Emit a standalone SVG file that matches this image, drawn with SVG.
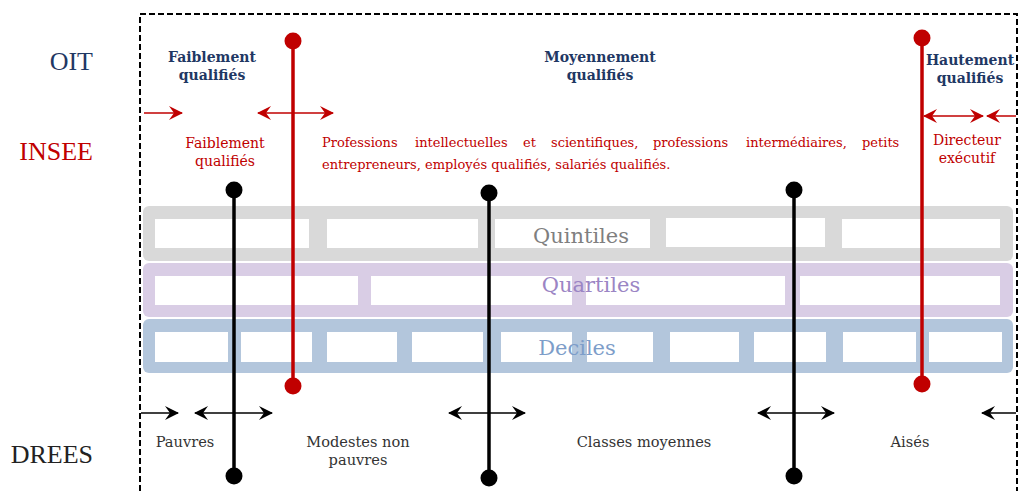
<svg xmlns="http://www.w3.org/2000/svg" width="1019" height="491" viewBox="0 0 1019 491">
<style>
.lbl{font-family:"Liberation Serif",serif;font-size:26px}
.oit{font-family:"DejaVu Serif",serif;font-size:14px;font-weight:bold;fill:#1f3864;text-anchor:middle}
.ins{font-family:"DejaVu Serif",serif;font-size:13px;fill:#c00000}
.ins2{font-family:"DejaVu Serif",serif;font-size:14px;fill:#c00000;text-anchor:middle}
.dr{font-family:"DejaVu Serif",serif;font-size:14.6px;fill:#333;text-anchor:middle}
.band{font-family:"DejaVu Serif",serif;font-size:21px;text-anchor:middle}
.w{fill:#fff}
.red{stroke:#c00000;stroke-width:3.5;fill:none}
.blk{stroke:#000;stroke-width:3.5;fill:none}
.ra{stroke:#c00000;stroke-width:1.5;fill:none}
.ba{stroke:#000;stroke-width:1.5;fill:none}
</style>
<defs>
<marker id="mr" viewBox="0 0 14 14" refX="13" refY="7" markerWidth="14" markerHeight="14" markerUnits="userSpaceOnUse" orient="auto-start-reverse"><path d="M0,0 L14,7 L0,14 L5,7 z" fill="#c00000"/></marker>
<marker id="mb" viewBox="0 0 14 14" refX="13" refY="7" markerWidth="14" markerHeight="14" markerUnits="userSpaceOnUse" orient="auto-start-reverse"><path d="M0,0 L14,7 L0,14 L5,7 z" fill="#000"/></marker>
</defs>
<rect width="1019" height="491" fill="#fff"/>
<rect x="140" y="14" width="877" height="500" fill="none" stroke="#000" stroke-width="2" stroke-dasharray="6,3"/>

<g id="row-labels">
<text class="lbl" x="93" y="70" text-anchor="end" fill="#1f3864">OIT</text>
<text class="lbl" x="93" y="160" text-anchor="end" fill="#c00000">INSEE</text>
<text class="lbl" x="93" y="463" text-anchor="end" fill="#222">DREES</text>
</g>

<g id="band-quintiles">
<rect x="143" y="206" width="870" height="55" rx="6" fill="#d9d9d9"/>
<rect class="w" x="155" y="219" width="154" height="29"/>
<rect class="w" x="327" y="219" width="151" height="29"/>
<rect class="w" x="495" y="219" width="155" height="29"/>
<rect class="w" x="666" y="218" width="159" height="29"/>
<rect class="w" x="842" y="219" width="158" height="29"/>
<text class="band" x="581" y="243" fill="#7f7f7f" font-size="22">Quintiles</text>
</g>

<g id="band-quartiles">
<rect x="143" y="263" width="870" height="54" rx="6" fill="#d9cde5"/>
<rect class="w" x="155" y="276" width="203" height="29"/>
<rect class="w" x="371" y="276" width="201" height="29"/>
<rect class="w" x="586" y="276" width="199" height="29"/>
<rect class="w" x="800" y="276" width="200" height="29"/>
<text class="band" x="591" y="292" fill="#9b85c4">Quartiles</text>
</g>

<g id="band-deciles">
<rect x="143" y="319" width="870" height="54" rx="6" fill="#b3c6dc"/>
<rect class="w" x="155" y="332" width="73" height="30"/>
<rect class="w" x="241" y="332" width="71" height="30"/>
<rect class="w" x="327" y="332" width="70" height="30"/>
<rect class="w" x="412" y="332" width="71" height="30"/>
<rect class="w" x="501" y="332" width="71" height="30"/>
<rect class="w" x="587" y="332" width="66" height="30"/>
<rect class="w" x="670" y="332" width="69" height="30"/>
<rect class="w" x="754" y="332" width="72" height="30"/>
<rect class="w" x="843" y="332" width="73" height="30"/>
<rect class="w" x="929" y="332" width="73" height="30"/>
<text class="band" x="577" y="355" fill="#7d9dc9">Deciles</text>
</g>

<g id="oit-labels">
<text class="oit" x="212" y="62">Faiblement</text>
<text class="oit" x="212" y="80">qualifiés</text>
<text class="oit" x="600" y="62">Moyennement</text>
<text class="oit" x="600" y="80">qualifiés</text>
<text class="oit" x="970" y="65">Hautement</text>
<text class="oit" x="970" y="83">qualifiés</text>
</g>

<g id="insee-labels">
<text class="ins2" x="225" y="148">Faiblement</text>
<text class="ins2" x="225" y="166">qualifiés</text>
<text class="ins" y="147"><tspan x="322">Professions</tspan><tspan x="415">intellectuelles</tspan><tspan x="523">et</tspan><tspan x="551">scientifiques,</tspan><tspan x="653">professions</tspan><tspan x="746">intermédiaires,</tspan><tspan x="862">petits</tspan></text>
<text class="ins" x="322" y="169">entrepreneurs, employés qualifiés, salariés qualifiés.</text>
<text class="ins2" x="967" y="145">Directeur</text>
<text class="ins2" x="967" y="163">exécutif</text>
</g>

<g id="drees-labels">
<text class="dr" x="185" y="447">Pauvres</text>
<text class="dr" x="358" y="447">Modestes non</text>
<text class="dr" x="358" y="465">pauvres</text>
<text class="dr" x="644" y="447">Classes moyennes</text>
<text class="dr" x="910" y="447">Aisés</text>
</g>

<g id="connectors">
<line class="red" x1="293" y1="41" x2="293" y2="386"/>
<circle cx="293" cy="41" r="8.5" fill="#c00000"/>
<circle cx="293" cy="386" r="8.5" fill="#c00000"/>
<line class="red" x1="922" y1="38" x2="922" y2="384"/>
<circle cx="922" cy="38" r="8.5" fill="#c00000"/>
<circle cx="922" cy="384" r="8.5" fill="#c00000"/>

<line class="blk" x1="234" y1="190" x2="234" y2="476"/>
<circle cx="234" cy="190" r="8.5" fill="#000"/>
<circle cx="234" cy="476" r="8.5" fill="#000"/>
<line class="blk" x1="489" y1="193" x2="489" y2="478"/>
<circle cx="489" cy="193" r="8.5" fill="#000"/>
<circle cx="489" cy="478" r="8.5" fill="#000"/>
<line class="blk" x1="794" y1="190" x2="794" y2="476"/>
<circle cx="794" cy="190" r="8.5" fill="#000"/>
<circle cx="794" cy="476" r="8.5" fill="#000"/>

<line class="ra" x1="144" y1="113" x2="182" y2="113" marker-end="url(#mr)"/>
<line class="ra" x1="258" y1="113" x2="333" y2="113" marker-start="url(#mr)" marker-end="url(#mr)"/>
<line class="ra" x1="924" y1="116" x2="983" y2="116" marker-start="url(#mr)" marker-end="url(#mr)"/>
<line class="ra" x1="1016" y1="116" x2="987" y2="116" marker-end="url(#mr)"/>

<line class="ba" x1="141" y1="413" x2="178" y2="413" marker-end="url(#mb)"/>
<line class="ba" x1="195" y1="413" x2="272" y2="413" marker-start="url(#mb)" marker-end="url(#mb)"/>
<line class="ba" x1="449" y1="413" x2="525" y2="413" marker-start="url(#mb)" marker-end="url(#mb)"/>
<line class="ba" x1="758" y1="413" x2="834" y2="413" marker-start="url(#mb)" marker-end="url(#mb)"/>
<line class="ba" x1="1016" y1="413" x2="982" y2="413" marker-end="url(#mb)"/>
</g>
</svg>
